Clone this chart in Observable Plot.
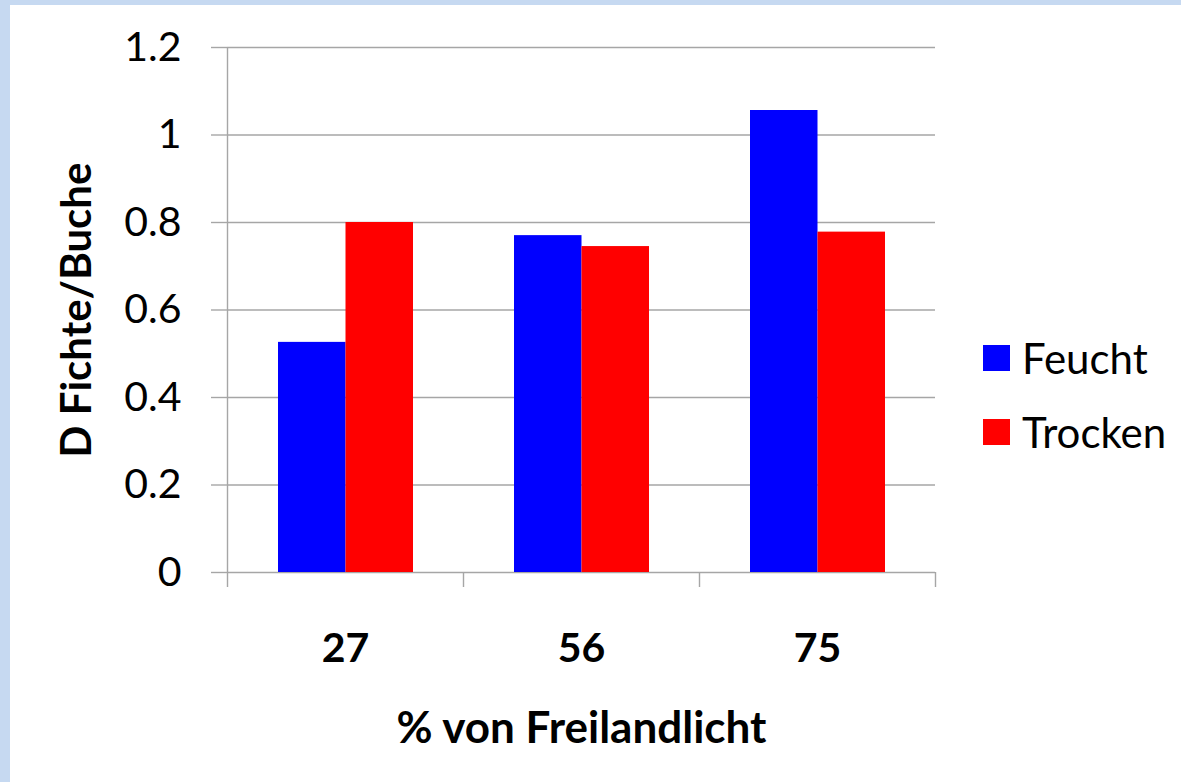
<!DOCTYPE html>
<html>
<head>
<meta charset="utf-8">
<script src="https://cdn.jsdelivr.net/npm/d3@7"></script>
<script src="https://cdn.jsdelivr.net/npm/@observablehq/plot@0.6"></script>
<style>
  html, body { margin: 0; padding: 0; }
  body { width: 1181px; height: 782px; background: #c6d9f1; overflow: hidden; position: relative; font-family: Lato, "Open Sans", sans-serif; }
  #panel { position: absolute; left: 10px; top: 5px; right: 0; bottom: 0; background: #ffffff; }
  #chart { position: absolute; left: 0; top: 0; }
  #legend { position: absolute; left: 983px; top: 334px; font-family: Lato, sans-serif; font-size: 42px; color: #000; }
  .item { display: flex; align-items: center; height: 48px; margin-bottom: 26px; }
  .sw { width: 27px; height: 26px; margin-right: 12px; box-sizing: border-box; }
</style>
</head>
<body>
<div id="panel"></div>
<div id="chart"></div>
<div id="legend"></div>
<script>
// ---- data ----
const categories = ["27", "56", "75"];
const seriesNames = ["Feucht", "Trocken"];
const feuchtValues = [0.526, 0.77, 1.056];
const trockenValues = [0.80, 0.745, 0.778];
const seriesColors = ["#0000ff", "#ff0000"];
const yTicks = [0, 0.2, 0.4, 0.6, 0.8, 1.0, 1.2];
const yTickLabels = ["0", "0.2", "0.4", "0.6", "0.8", "1", "1.2"];
const xTitle = "% von Freilandlicht";
const yTitle = "D Fichte/Buche";

const rows = [];
categories.forEach((c, i) => {
  rows.push({cat: c, series: seriesNames[0], value: feuchtValues[i]});
  rows.push({cat: c, series: seriesNames[1], value: trockenValues[i]});
});

const gray = "#a6a6a6";
const band = (935 - 227) / 3;
const tickDrop = 15 / 437.5;

const chart = Plot.plot({
  width: 1181,
  height: 782,
  marginLeft: 227,
  marginRight: 246,
  marginTop: 47,
  marginBottom: 210,
  style: { background: "transparent", fontFamily: "Lato, sans-serif", color: "#000" },
  x: { domain: categories, padding: 0 },
  y: { domain: [0, 1.2] },
  color: { domain: seriesNames, range: seriesColors },
  marks: [
    Plot.ruleY(yTicks, { stroke: gray, strokeWidth: 1.4 }),
    Plot.barY(rows.filter(d => d.series === seriesNames[0]), {
      x: "cat", y: "value", fill: "series", insetLeft: 51, insetRight: band - 51 - 67.5
    }),
    Plot.barY(rows.filter(d => d.series === seriesNames[1]), {
      x: "cat", y: "value", fill: "series", insetLeft: 118.5, insetRight: band - 118.5 - 67.5
    }),
    // vertical y-axis line (extends to the bottom tick)
    Plot.ruleX(categories.slice(0, 1), { x: d => d, dx: -band / 2, y1: -tickDrop, y2: 1.2, stroke: gray, strokeWidth: 1.4 }),
    // category boundary ticks
    Plot.ruleX(categories.slice(1), { x: d => d, dx: -band / 2, y1: -tickDrop, y2: 0, stroke: gray, strokeWidth: 1.4 }),
    Plot.ruleX(categories.slice(-1), { x: d => d, dx: band / 2, y1: -tickDrop, y2: 0, stroke: gray, strokeWidth: 1.4 }),
    Plot.axisY({
      ticks: yTicks,
      tickFormat: (d) => yTickLabels[yTicks.indexOf(d)],
      tickSize: 16,
      tickPadding: 30,
      stroke: gray,
      strokeWidth: 1.4,
      fontSize: 41,
      label: yTitle,
      labelAnchor: "center",
      labelArrow: false,
      labelOffset: 166,
      fontWeight: "normal"
    }),
    Plot.axisX({
      tickSize: 0,
      tickPadding: 60,
      fontSize: 41,
      fontWeight: "bold",
      label: xTitle,
      labelAnchor: "center",
      labelArrow: false,
      labelOffset: 170
    })
  ]
});
document.getElementById("chart").appendChild(chart);

// style the axis titles
chart.querySelectorAll("g[aria-label='y-axis label'] text, g[aria-label='x-axis label'] text").forEach(t => {
  t.setAttribute("font-weight", "bold");
});
const yl = chart.querySelector("g[aria-label='y-axis label']");
if (yl) yl.setAttribute("font-size", 42);
const xl = chart.querySelector("g[aria-label='x-axis label']");
if (xl) xl.setAttribute("font-size", 44);

// legend
const legend = document.getElementById("legend");
seriesNames.forEach((s, i) => {
  const item = document.createElement("div");
  item.className = "item";
  const sw = document.createElement("div");
  sw.className = "sw";
  sw.style.background = seriesColors[i];
  const lab = document.createElement("span");
  lab.textContent = s;
  item.appendChild(sw);
  item.appendChild(lab);
  legend.appendChild(item);
});
</script>
</body>
</html>
